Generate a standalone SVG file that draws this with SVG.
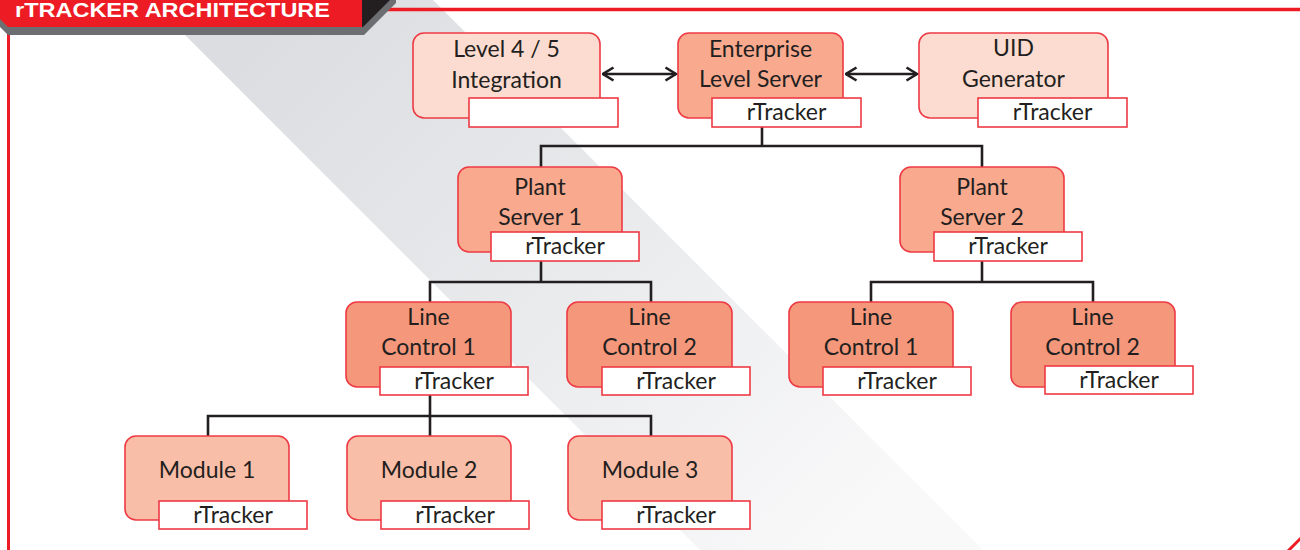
<svg xmlns="http://www.w3.org/2000/svg" width="1300" height="550" viewBox="0 0 1300 550">
<defs>
<linearGradient id="band" gradientUnits="userSpaceOnUse" x1="300" y1="0" x2="840" y2="550">
<stop offset="0" stop-color="#dcdde0"/>
<stop offset="0.45" stop-color="#e8e9eb"/>
<stop offset="1" stop-color="#f9f9fa"/>
</linearGradient>
<marker id="ah" viewBox="0 0 14 16" refX="12.5" refY="8" markerWidth="14" markerHeight="16" markerUnits="userSpaceOnUse" orient="auto-start-reverse">
<path d="M2,1.5 L12.5,8 L2,14.5" fill="none" stroke="#231f20" stroke-width="2.6"/>
</marker>
</defs>
<style>
.n{stroke:#ee3a44;stroke-width:1.6}
.l45{fill:#fcdcd0}
.srv{fill:#f8a98e}
.lc{fill:#f5977b}
.mod{fill:#f9bea7}
.box{fill:#ffffff;stroke:#ee3a44;stroke-width:1.6}
.t{font-family:Lato,"Open Sans","Liberation Sans",sans-serif;font-size:23px;fill:#231f20;text-anchor:middle}
.c{fill:none;stroke:#231f20;stroke-width:2.6}
</style>
<rect width="1300" height="550" fill="#ffffff"/>
<polygon points="150,0 433,0 983,550 700,550" fill="url(#band)"/>
<line x1="380" y1="9.5" x2="1300" y2="9.5" stroke="#ed1c24" stroke-width="3.5"/>
<line x1="8.5" y1="34" x2="8.5" y2="550" stroke="#ed1c24" stroke-width="3"/>
<line x1="1288" y1="551" x2="1301" y2="538" stroke="#ed1c24" stroke-width="3"/>
<g id="header">
<polygon points="0,19 0,27 8,35 364,35 396,3 396,0 390,0" fill="#6d6e71"/>
<polygon points="362,0 390,0 363,27 362,27" fill="#231f20"/>
<polygon points="0,0 362,0 362,27 8,27 0,19" fill="#ed1c24"/>
<text x="15" y="16.5" font-family="'Liberation Sans',Arial,sans-serif" font-weight="bold" font-size="21" fill="#ffffff" textLength="315" lengthAdjust="spacingAndGlyphs">rTRACKER ARCHITECTURE</text>
</g>
<g id="connectors">
<line class="c" x1="603" y1="74" x2="676" y2="74" marker-start="url(#ah)" marker-end="url(#ah)"/>
<line class="c" x1="846" y1="74" x2="917" y2="74" marker-start="url(#ah)" marker-end="url(#ah)"/>
<polyline class="c" points="762,127 762,146"/>
<polyline class="c" points="541,167 541,146 982,146 982,167"/>
<polyline class="c" points="541,261 541,282"/>
<polyline class="c" points="430,303 430,282 651,282 651,303"/>
<polyline class="c" points="982,261 982,282"/>
<polyline class="c" points="871,303 871,282 1093,282 1093,303"/>
<polyline class="c" points="430,395 430,416"/>
<polyline class="c" points="208,437 208,416 651,416 651,437"/>
<line class="c" x1="430" y1="416" x2="430" y2="437"/>
</g>
<g id="level45">
<rect class="n l45" x="413" y="33" width="187" height="85" rx="11"/>
<rect class="box" x="469" y="98" width="149" height="29"/>
<text class="t" x="506.5" y="57">Level 4 / 5</text>
<text class="t" x="506.5" y="88">Integration</text>
</g>
<g id="enterprise">
<rect class="n srv" x="678" y="33" width="165" height="85" rx="11"/>
<rect class="box" x="712" y="98" width="149" height="29"/>
<text class="t" x="760.5" y="57">Enterprise</text>
<text class="t" x="760.5" y="87">Level Server</text>
<text class="t" x="786.5" y="120">rTracker</text>
</g>
<g id="uid">
<rect class="n l45" x="919" y="33" width="189" height="85" rx="11"/>
<rect class="box" x="978" y="98" width="149" height="29"/>
<text class="t" x="1013.5" y="56">UID</text>
<text class="t" x="1013.5" y="87">Generator</text>
<text class="t" x="1052.5" y="120">rTracker</text>
</g>
<g id="plant1">
<rect class="n srv" x="458" y="167" width="164" height="85" rx="11"/>
<rect class="box" x="491" y="232" width="148" height="29"/>
<text class="t" x="540" y="195">Plant</text>
<text class="t" x="540" y="225">Server 1</text>
<text class="t" x="565" y="254">rTracker</text>
</g>
<g id="plant2">
<rect class="n srv" x="900" y="167" width="164" height="85" rx="11"/>
<rect class="box" x="934" y="232" width="148" height="29"/>
<text class="t" x="982" y="195">Plant</text>
<text class="t" x="982" y="225">Server 2</text>
<text class="t" x="1008" y="254">rTracker</text>
</g>
<g id="lc1a">
<rect class="n lc" x="346" y="302" width="165" height="85" rx="11"/>
<rect class="box" x="380" y="367" width="148" height="28"/>
<text class="t" x="428.5" y="325">Line</text>
<text class="t" x="428.5" y="355">Control 1</text>
<text class="t" x="454" y="389">rTracker</text>
</g>
<g id="lc2a">
<rect class="n lc" x="567" y="302" width="165" height="85" rx="11"/>
<rect class="box" x="602" y="367" width="148" height="28"/>
<text class="t" x="649.5" y="325">Line</text>
<text class="t" x="649.5" y="355">Control 2</text>
<text class="t" x="676" y="389">rTracker</text>
</g>
<g id="lc1b">
<rect class="n lc" x="789" y="302" width="164" height="85" rx="11"/>
<rect class="box" x="823" y="367" width="148" height="28"/>
<text class="t" x="871" y="325">Line</text>
<text class="t" x="871" y="355">Control 1</text>
<text class="t" x="897" y="389">rTracker</text>
</g>
<g id="lc2b">
<rect class="n lc" x="1011" y="302" width="164" height="85" rx="11"/>
<rect class="box" x="1045" y="366" width="148" height="28"/>
<text class="t" x="1092.5" y="325">Line</text>
<text class="t" x="1092.5" y="355">Control 2</text>
<text class="t" x="1119" y="388">rTracker</text>
</g>
<g id="module1">
<rect class="n mod" x="125" y="436" width="164" height="84" rx="11"/>
<rect class="box" x="159" y="501" width="148" height="28"/>
<text class="t" x="207" y="478">Module 1</text>
<text class="t" x="233" y="523">rTracker</text>
</g>
<g id="module2">
<rect class="n mod" x="347" y="436" width="164" height="84" rx="11"/>
<rect class="box" x="381" y="501" width="148" height="28"/>
<text class="t" x="429" y="478">Module 2</text>
<text class="t" x="455" y="523">rTracker</text>
</g>
<g id="module3">
<rect class="n mod" x="568" y="436" width="164" height="84" rx="11"/>
<rect class="box" x="602" y="501" width="148" height="28"/>
<text class="t" x="650" y="478">Module 3</text>
<text class="t" x="676" y="523">rTracker</text>
</g>
</svg>
